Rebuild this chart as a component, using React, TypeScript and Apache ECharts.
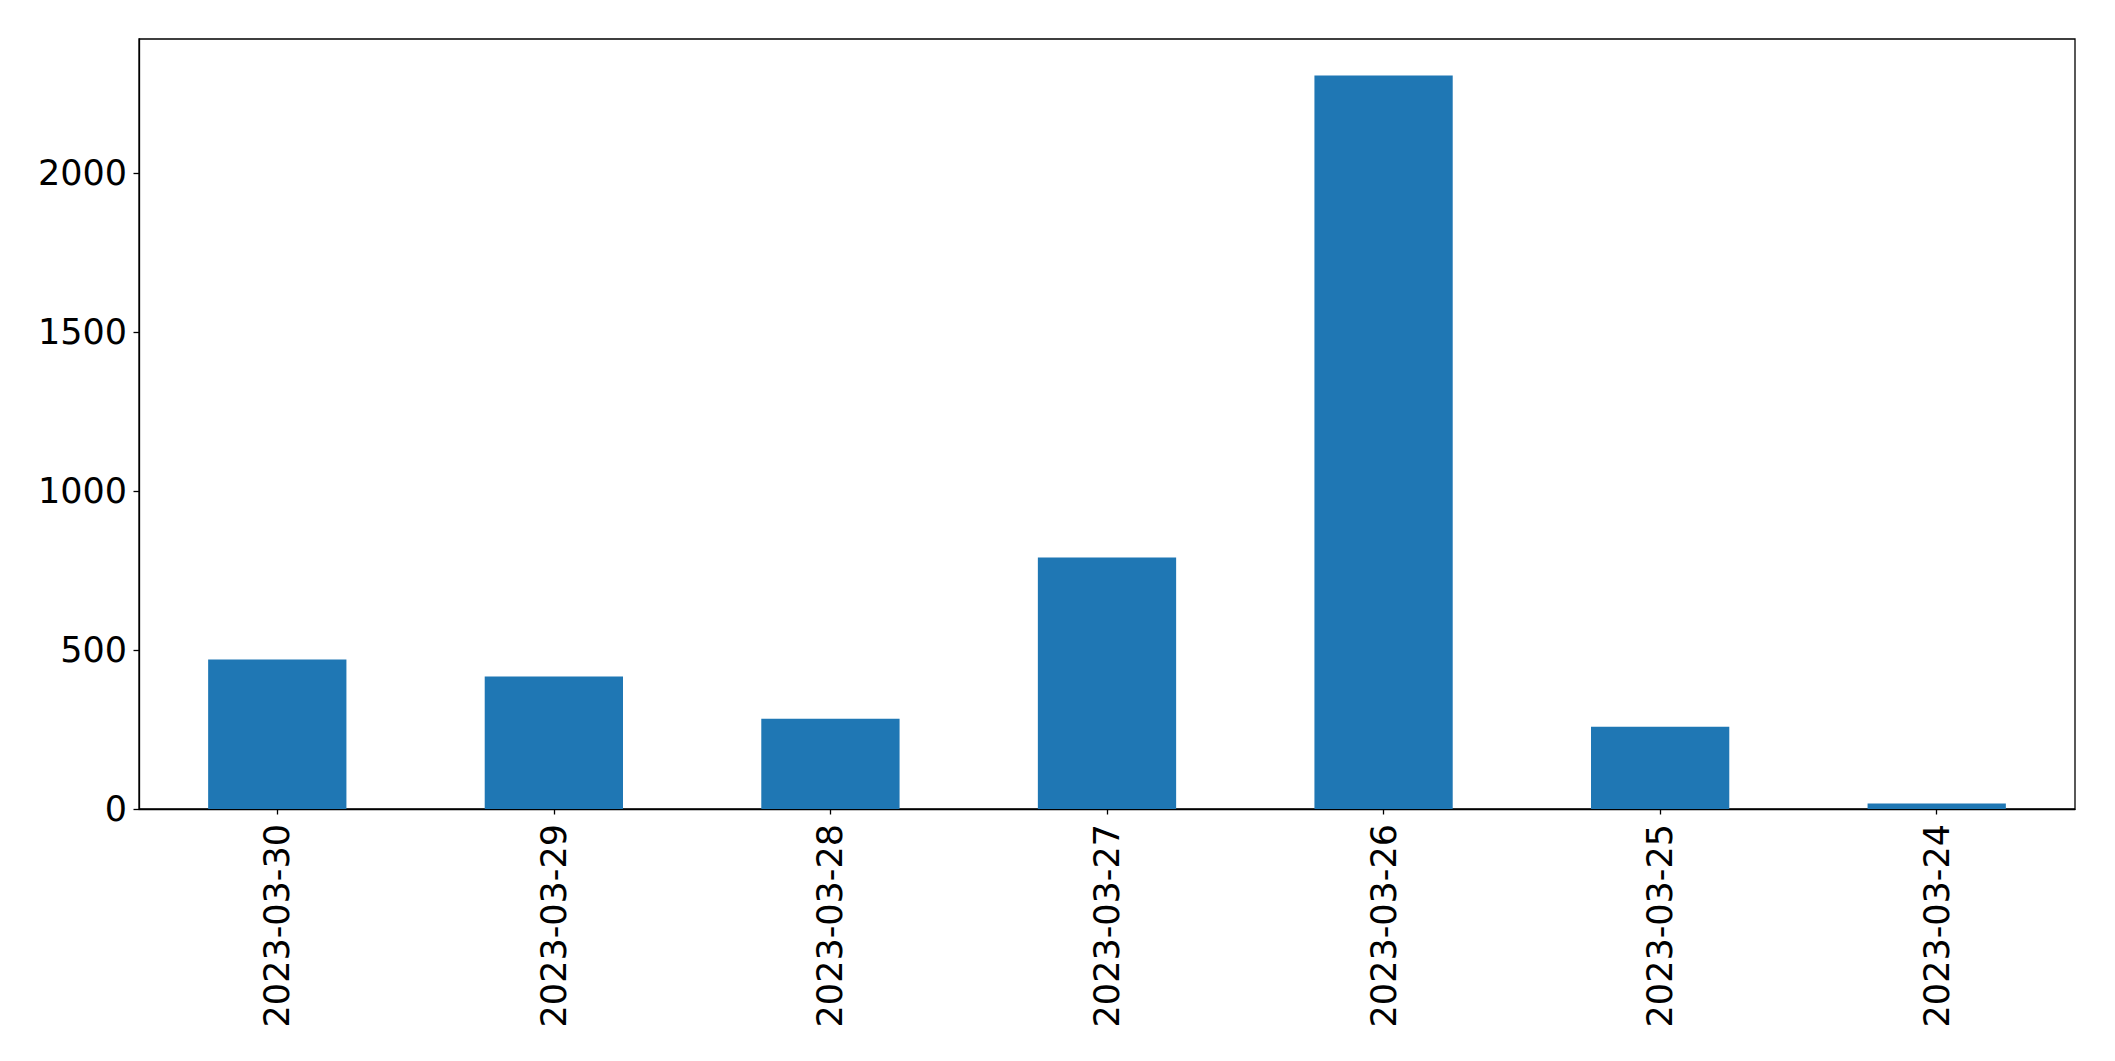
import React, { useEffect, useRef } from "react";
import * as echarts from "echarts";

const categories = [
  "2023-03-30",
  "2023-03-29",
  "2023-03-28",
  "2023-03-27",
  "2023-03-26",
  "2023-03-25",
  "2023-03-24",
];
const values = [470, 417, 284, 791, 2307, 259, 17];
const yTicks = [0, 500, 1000, 1500, 2000];
const yMax = 2422;

export default function App() {
  const ref = useRef<HTMLDivElement>(null);
  useEffect(() => {
    document.body.style.margin = "0";
    document.body.style.overflow = "hidden";
    const chart = echarts.init(ref.current!, null, { renderer: "svg" });
    const font = "DejaVu Sans";
    chart.setOption({
      animation: false,
      backgroundColor: "#ffffff",
      grid: {
        left: 139,
        top: 39,
        right: 40,
        bottom: 252,
        show: true,
        borderColor: "#000000",
        borderWidth: 1.3,
        backgroundColor: "transparent",
      },
      xAxis: {
        type: "category",
        data: categories,
        axisLine: { show: true, lineStyle: { color: "#000", width: 1.3 } },
        axisTick: {
          show: true,
          alignWithLabel: true,
          length: 5.5,
          lineStyle: { color: "#000", width: 1.3 },
        },
        axisLabel: {
          rotate: 90,
          margin: 15,
          color: "#000",
          fontSize: 35,
          fontFamily: font,
          interval: 0,
        },
        splitLine: { show: false },
      },
      yAxis: {
        type: "value",
        min: 0,
        max: yMax,
        axisLine: { show: true, lineStyle: { color: "#000", width: 1.3 } },
        axisTick: {
          show: true,
          length: 5.5,
          customValues: yTicks,
          lineStyle: { color: "#000", width: 1.3 },
        },
        axisLabel: {
          margin: 12,
          color: "#000",
          fontSize: 35,
          fontFamily: font,
          customValues: yTicks,
          formatter: (v: number) => String(v),
        },
        splitLine: { show: false },
      },
      series: [
        {
          type: "bar",
          data: values,
          barWidth: "50%",
          itemStyle: { color: "#1f77b4" },
        },
      ],
    });
    return () => chart.dispose();
  }, []);
  return (
    <div
      ref={ref}
      style={{ position: "absolute", left: 0, top: 0, width: 2115, height: 1061 }}
    />
  );
}
